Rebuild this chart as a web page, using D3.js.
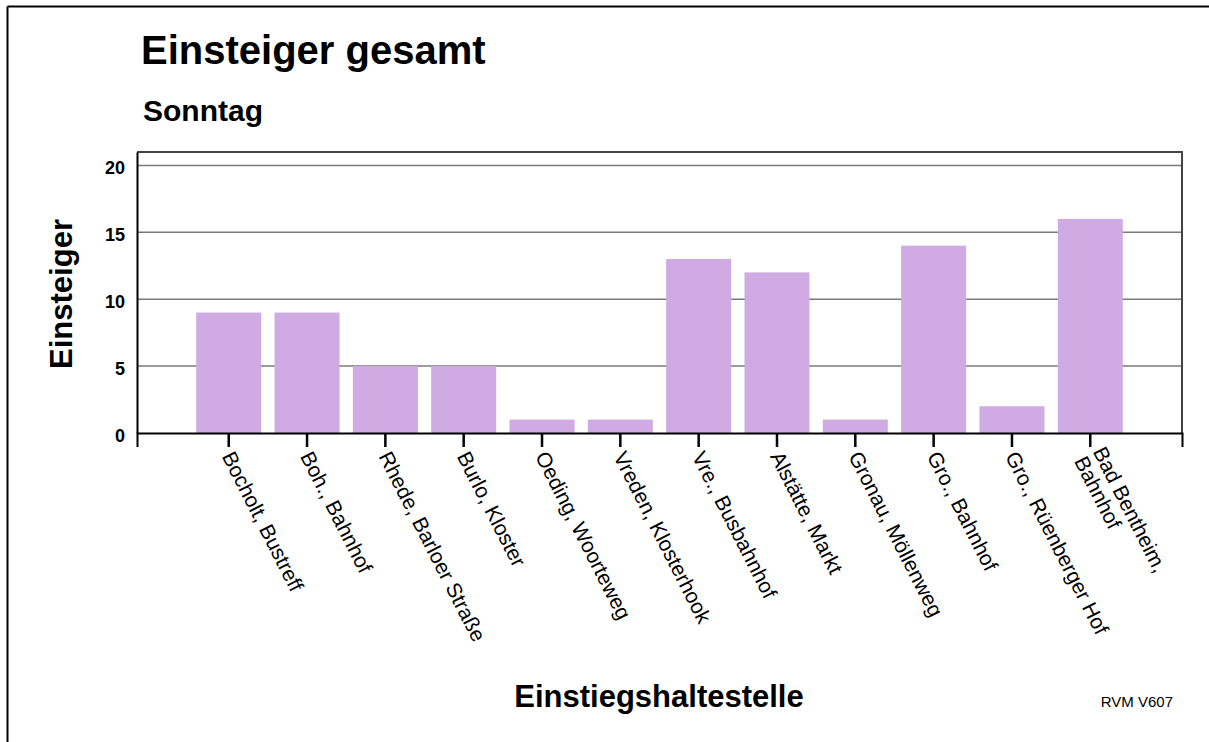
<!doctype html>
<html>
<head>
<meta charset="utf-8">
<title>Einsteiger gesamt</title>
<script src="https://cdn.jsdelivr.net/npm/d3@7"></script>
<style>
  body { margin:0; background:#fff; }
  text { font-family: "Liberation Sans", Arial, Helvetica, sans-serif; }
</style>
</head>
<body>
<script>
// data
var stops = ["Bocholt, Bustreff", "Boh., Bahnhof", "Rhede, Barloer Straße", "Burlo, Kloster",
             "Oeding, Woorteweg", "Vreden, Klosterhook", "Vre., Busbahnhof", "Alstätte, Markt",
             "Gronau, Möllenweg", "Gro., Bahnhof", "Gro., Rüenberger Hof", "Bad Bentheim,\nBahnhof"];
var einsteiger = [9, 9, 5, 5, 1, 1, 13, 12, 1, 14, 2, 16];
var yTicks = [0, 5, 10, 15, 20];

var w = 1209, h = 742;
var plotL = 137, plotR = 1182, plotT = 152, plotB = 433;

var svg = d3.select("body").append("svg")
    .attr("width", w).attr("height", h);

// page border (top + left)
svg.append("line").attr("x1", 7.5).attr("x2", w).attr("y1", 6.5).attr("y2", 6.5)
   .attr("stroke", "#000").attr("stroke-width", 2);
svg.append("line").attr("x1", 7.5).attr("x2", 7.5).attr("y1", 6.5).attr("y2", h)
   .attr("stroke", "#000").attr("stroke-width", 2);

var x = d3.scaleBand().domain(stops).range([plotL, plotR])
    .paddingInner(0.17).paddingOuter(0.756);
var y = d3.scaleLinear().domain([0, 21]).range([plotB, plotT]);

// gridlines
svg.selectAll(".grid").data(yTicks.slice(1)).enter().append("line")
   .attr("x1", plotL).attr("x2", plotR)
   .attr("y1", function(d){ return y(d); }).attr("y2", function(d){ return y(d); })
   .attr("stroke", "#7a7a7a").attr("stroke-width", 1.5);

// bars
svg.selectAll("rect.bar").data(einsteiger).enter().append("rect")
   .attr("class", "bar")
   .attr("x", function(d, i){ return x(stops[i]); })
   .attr("width", x.bandwidth())
   .attr("y", function(d){ return y(d); })
   .attr("height", function(d){ return plotB - y(d); })
   .attr("fill", "#d0aae3");

// frame top & right
svg.append("path")
   .attr("d", "M" + plotL + "," + plotT + "H" + plotR + "V" + plotB)
   .attr("fill", "none").attr("stroke", "#444").attr("stroke-width", 2);

// y axis
var yAxis = svg.append("g").attr("transform", "translate(" + plotL + ",0)")
   .call(d3.axisLeft(y).tickValues(yTicks).tickSize(0).tickPadding(12));
yAxis.select(".domain").attr("stroke", "#000").attr("stroke-width", 2);
yAxis.selectAll("text").attr("font-size", 18).attr("font-weight", "bold")
   .attr("fill", "#000").attr("dy", "0.45em")
   .style("font-family", "'Liberation Sans', Arial, sans-serif");

// x axis
var xAxis = svg.append("g").attr("transform", "translate(0," + plotB + ")")
   .call(d3.axisBottom(x).tickSize(14).tickFormat(""));
xAxis.select(".domain").attr("stroke", "#000").attr("stroke-width", 2);
xAxis.selectAll(".tick line").attr("stroke", "#000").attr("stroke-width", 2.5);

// rotated category labels
var lh = 21;
svg.selectAll("text.cat").data(stops).enter().append("text")
   .attr("class", "cat")
   .attr("font-size", 21)
   .attr("transform", function(d){
       return "translate(" + (x(d) + x.bandwidth() / 2 - 1) + "," + (plotB + 20) + ") rotate(63)";
   })
   .each(function(d){
       var lines = d.split("\n");
       var t = d3.select(this);
       lines.forEach(function(s, i){
           t.append("tspan").attr("x", 0)
            .attr("dy", i === 0 ? ((-(lines.length - 1) * lh / 2) + 7) : lh)
            .text(s);
       });
   });

// titles
svg.append("text").attr("x", 141).attr("y", 64)
   .attr("font-size", 40).attr("font-weight", "bold").text("Einsteiger gesamt");
svg.append("text").attr("x", 143).attr("y", 121)
   .attr("font-size", 30).attr("font-weight", "bold").text("Sonntag");

// axis titles
svg.append("text").attr("transform", "translate(72,294) rotate(-90)")
   .attr("text-anchor", "middle").attr("font-size", 31).attr("font-weight", "bold")
   .text("Einsteiger");
svg.append("text").attr("x", 659).attr("y", 707)
   .attr("text-anchor", "middle").attr("font-size", 31).attr("font-weight", "bold")
   .text("Einstiegshaltestelle");

svg.append("text").attr("x", 1173).attr("y", 707)
   .attr("text-anchor", "end").attr("font-size", 15).text("RVM V607");
</script>
</body>
</html>
